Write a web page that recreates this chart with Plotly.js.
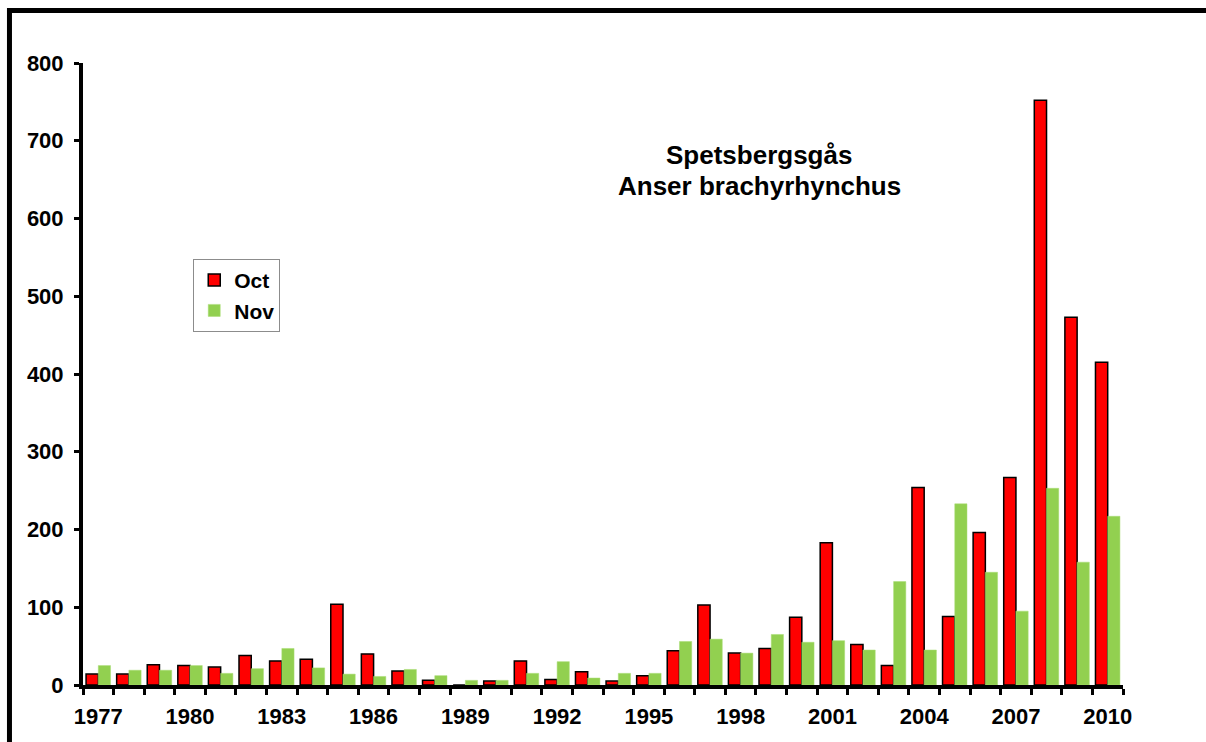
<!DOCTYPE html>
<html>
<head>
<meta charset="utf-8">
<script src="https://cdn.plot.ly/plotly-3.0.1.min.js"></script>
<style>
  html, body { margin: 0; padding: 0; background: #ffffff; }
  #chart { width: 1206px; height: 742px; }
</style>
</head>
<body>
<div id="chart"></div>
<script>
const years = ["1977","1978","1979","1980","1981","1982","1983","1984","1985","1986",
               "1987","1988","1989","1990","1991","1992","1993","1994","1995","1996",
               "1997","1998","1999","2000","2001","2002","2003","2004","2005","2006",
               "2007","2008","2009","2010"];
const octValues = [14, 14, 26, 25, 23, 38, 31, 33, 104, 40,
                   18, 6, 0, 5, 31, 7, 17, 5, 12, 44,
                   103, 41, 47, 87, 183, 52, 25, 254, 88, 196,
                   267, 752, 473, 415];
const novValues = [25, 19, 19, 25, 15, 21, 47, 22, 14, 11,
                   20, 12, 6, 6, 15, 30, 9, 15, 15, 56,
                   59, 41, 65, 55, 57, 45, 133, 45, 233, 145,
                   95, 253, 158, 217];
const labeledYears = ["1977","1980","1983","1986","1989","1992","1995","1998","2001","2004","2007","2010"];
const seriesNames = ["Oct", "Nov"];
const titleLines = ["Spetsbergsgås", "Anser brachyrhynchus"];

const tickText = years.map(y => labeledYears.includes(y) ? y : "");
const FONT = "Liberation Sans, Arial, sans-serif";

const traces = [
  {
    type: "bar", name: seriesNames[0], x: years, y: octValues,
    marker: { color: "#ff0000", line: { color: "#000000", width: 1.5 } }
  },
  {
    type: "bar", name: seriesNames[1], x: years, y: novValues,
    marker: { color: "#92d050", line: { color: "#a8dc74", width: 0.5 } }
  }
];

const titleFont = { family: FONT, size: 26, weight: "bold", color: "#000" };

const layout = {
  width: 1206, height: 742,
  margin: { l: 83, r: 83, t: 63, b: 57, pad: 0 },
  paper_bgcolor: "#ffffff", plot_bgcolor: "#ffffff",
  font: { family: FONT, size: 22, color: "#000000", weight: "bold" },
  barmode: "group", bargap: 0.2, bargroupgap: 0,
  showlegend: true,
  legend: {
    x: 0.106, y: 0.685, xanchor: "left", yanchor: "top",
    bgcolor: "#ffffff", bordercolor: "#8c8c8c", borderwidth: 1,
    font: { family: FONT, size: 21, weight: "bold", color: "#000000" },
    itemwidth: 30, tracegroupgap: 0
  },
  xaxis: {
    type: "category", range: [-0.5, 33.5],
    tickmode: "array", tickvals: years, ticktext: tickText,
    tickson: "boundaries", ticks: "outside", ticklen: 6, tickwidth: 3, tickcolor: "#000",
    showline: true, linecolor: "#000", linewidth: 4,
    showgrid: false, zeroline: false, tickangle: 0,
    tickfont: { family: FONT, size: 22, weight: "bold", color: "#000" },
    ticklabelstandoff: 9
  },
  yaxis: {
    range: [0, 800], dtick: 100, tick0: 0,
    ticks: "outside", ticklen: 5, tickwidth: 3, tickcolor: "#000",
    showline: true, linecolor: "#000", linewidth: 4,
    showgrid: false, zeroline: false,
    tickfont: { family: FONT, size: 22, weight: "bold", color: "#000" },
    ticklabelstandoff: 6
  },
  annotations: [
    {
      xref: "paper", yref: "paper", x: 0.65, y: 0.852,
      xanchor: "center", yanchor: "middle", showarrow: false,
      text: titleLines[0], font: titleFont
    },
    {
      xref: "paper", yref: "paper", x: 0.65, y: 0.802,
      xanchor: "center", yanchor: "middle", showarrow: false,
      text: titleLines[1], font: titleFont
    }
  ],
  shapes: [
    {
      type: "path", xref: "paper", yref: "paper",
      path: "M 1.3,1.0844 L -0.0707,1.0844 L -0.0707,-0.2",
      line: { color: "#000", width: 5 }
    }
  ]
};

Plotly.newPlot("chart", traces, layout, { displayModeBar: false, staticPlot: true });
</script>
</body>
</html>
